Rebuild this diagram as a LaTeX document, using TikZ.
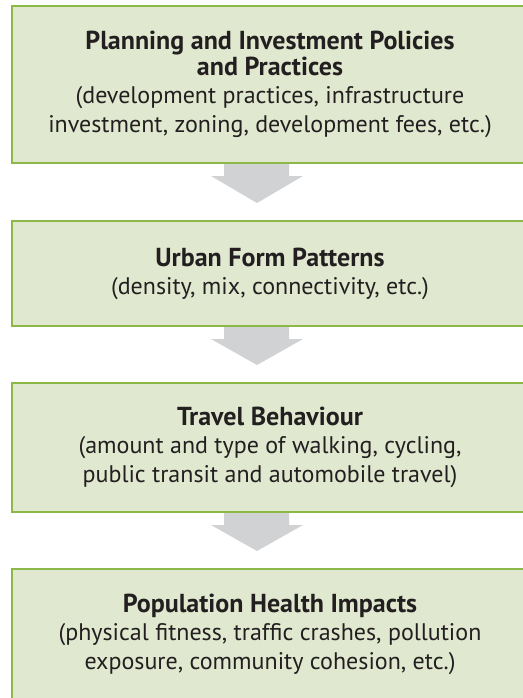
\documentclass[tikz,border=0pt]{standalone}
\usepackage{fontspec}
\setmainfont{PT Sans}
\usepackage{tikz}
\definecolor{gg}{RGB}{224, 233, 207}
\definecolor{ll}{RGB}{140, 184, 72}
\definecolor{ss}{RGB}{209, 210, 212}
\definecolor{tt}{RGB}{35, 31, 32}
\usetikzlibrary{positioning}
\def\boxwidth{516pt}
\newcommand{\ttl}{\fontsize{26}{29}\selectfont\bfseries}
\newcommand{\sbt}{\fontsize{24}{29}\selectfont\mdseries}
\newcommand{\stagebox}[4]{\node[minimum height=#3,minimum width=\boxwidth,draw=ll,line width=2pt,rectangle,fill=gg,text=tt,align=center,inner sep=0pt,font=\sbt] (#1) at (270pt,#2) {#4};}
\newcommand{\flowarrow}[2]{\fill[color=ss] ([xshift=-46pt]#1.south) -- ([xshift=19pt]#1.south) -- ([xshift=19pt,yshift=-12pt]#1.south) -- ([xshift=33pt,yshift=-12pt]#1.south) -- ([xshift=-13pt,yshift=17pt]#2.north) -- ([xshift=-59pt,yshift=-12pt]#1.south) -- ([xshift=-46pt,yshift=-12pt]#1.south) -- cycle;}

\begin{document}
\begin{tikzpicture}
	\useasboundingbox (0,0) rectangle (522pt,-698pt);

	\stagebox{plan}{-84.5pt}{157pt}{\ttl Planning and Investment Policies\\[-3pt] \ttl and Practices\\[-1pt] \sbt (development practices, infrastructure\\ \sbt investment, zoning, development fees, etc.)}
	\stagebox{form}{-273.5pt}{105pt}{\ttl Urban Form Patterns\\[-1pt] \sbt (density, mix, connectivity, etc.)}
	\stagebox{travel}{-447.5pt}{129pt}{\ttl Travel Behaviour\\[-1pt] \sbt (amount and type of walking, cycling,\\ \sbt public transit and automobile travel)}
	\stagebox{health}{-634.5pt}{131pt}{\ttl Population Health Impacts\\[-1pt] \sbt (physical fitness, traffic crashes, pollution\\ \sbt exposure, community cohesion, etc.)}

	\flowarrow{plan}{form}
	\flowarrow{form}{travel}
	\flowarrow{travel}{health}
\end{tikzpicture}
\end{document}
